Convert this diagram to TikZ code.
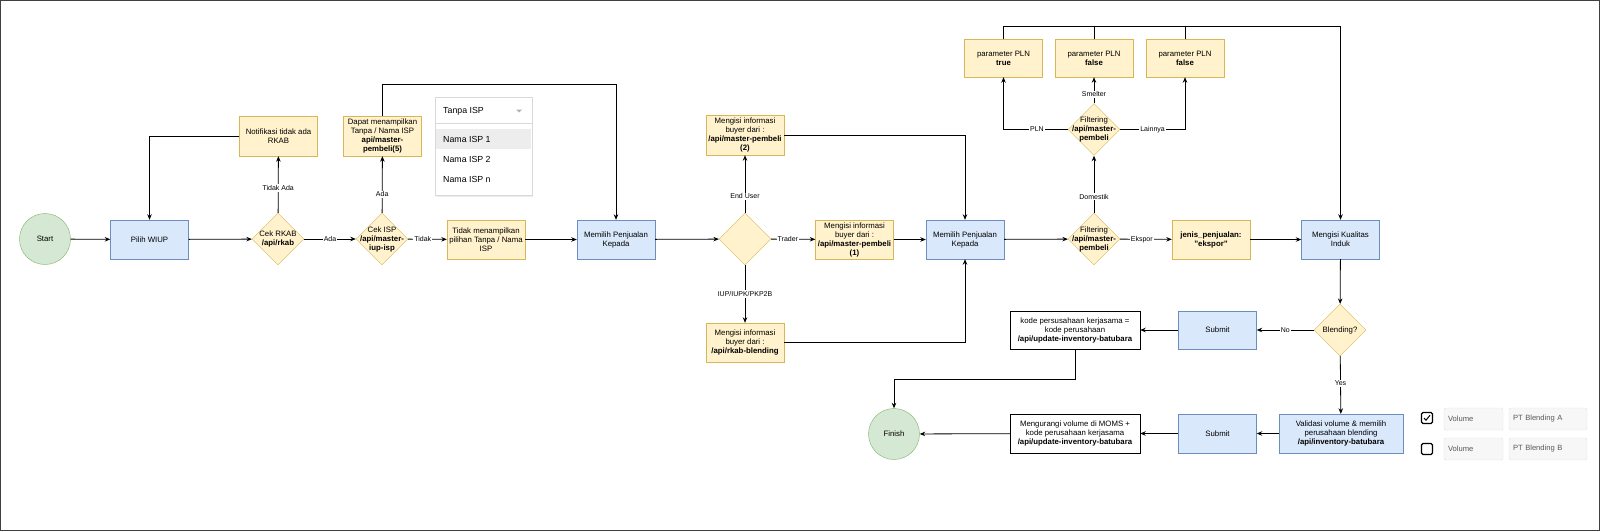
\documentclass[tikz,border=0pt]{standalone}
\usepackage{fontspec}
\setmainfont{Liberation Sans}
\usetikzlibrary{arrows.meta,positioning,calc,shapes.geometric,shadows}

\definecolor{bluefill}{HTML}{DAE8FC}
\definecolor{blueline}{HTML}{6C8EBF}
\definecolor{yellowfill}{HTML}{FFF2CC}
\definecolor{yellowline}{HTML}{D6B656}
\definecolor{greenfill}{HTML}{D5E8D4}
\definecolor{greenline}{HTML}{82B366}

\begin{document}
\begin{tikzpicture}[x=1pt, y=-1pt, >={Stealth[length=5.5pt,width=4.5pt]},
  every node/.style={font=\fontsize{7.8}{9}\selectfont, align=center},
  box/.style={rectangle, draw, minimum width=78pt, minimum height=39pt, inner sep=1pt},
  bluebox/.style={box, fill=bluefill, draw=blueline},
  yellowbox/.style={box, fill=yellowfill, draw=yellowline},
  plainbox/.style={box, draw=black, fill=white, minimum width=130pt},
  terminal/.style={circle, fill=greenfill, draw=greenline, minimum size=51pt, inner sep=0pt},
  decision/.style={diamond, fill=yellowfill, draw=yellowline, minimum width=52pt, minimum height=52pt, inner sep=0pt},
  dtext/.style={inner sep=0pt},
  elabel/.style={fill=white, font=\fontsize{7}{8}\selectfont, inner sep=1pt},
  flow/.style={->, line width=0.8pt},
  ddtext/.style={anchor=west, inner sep=0pt, font=\fontsize{8.8}{10}\selectfont},
  field/.style={rectangle, rounded corners=2pt, fill=black!3, draw=black!12, minimum height=22pt,
    inner sep=4pt, align=left, text=black!65, font=\fontsize{7.6}{9}\selectfont},
  checkbox/.style={rectangle, rounded corners=1.5pt, draw, line width=1.2pt, minimum size=11pt, inner sep=0pt}]

  \useasboundingbox (0,0) rectangle (1600,531);
  \draw[black!75, line width=1.4pt] (0.7,0.7) rectangle (1599.3,530.3);

  \node[terminal] (start) at (45,239) {Start};
  \node[bluebox] (wiup) at (149.5,239.5) {Pilih WIUP};
  \node[decision] (rkab) at (278,239) {};
  \node[dtext] (rkabt) at (rkab) {Cek RKAB\\\textbf{/api/rkab}};
  \node[yellowbox, minimum height=40pt] (notif) at (278.5,136) {Notifikasi tidak ada\\RKAB};
  \node[decision] (isp) at (382,239) {};
  \node[dtext] (ispt) at (isp) {Cek ISP\\\textbf{/api/master-}\\\textbf{iup-isp}};
  \node[yellowbox, minimum height=40pt] (dapat) at (382.5,136) {Dapat menampilkan\\Tanpa / Nama ISP\\\textbf{api/master-}\\\textbf{pembeli(5)}};
  \node[yellowbox] (tidakisp) at (486,239.5) {Tidak menampilkan\\pilihan Tanpa / Nama\\ISP};
  \node[bluebox] (memilih1) at (616,239.5) {Memilih Penjualan\\Kepada};

  \node[decision] (buyer) at (745,239) {};
  \node[yellowbox, minimum height=40pt] (beli2) at (745,135) {Mengisi informasi\\buyer dari :\\\textbf{/api/master-pembeli}\\\textbf{(2)}};
  \node[yellowbox] (beli1) at (854.5,239.5) {Mengisi informasi\\buyer dari :\\\textbf{/api/master-pembeli}\\\textbf{(1)}};
  \node[yellowbox] (blend) at (745,342.5) {Mengisi informasi\\buyer dari :\\\textbf{/api/rkab-blending}};
  \node[bluebox] (memilih2) at (965,239.5) {Memilih Penjualan\\Kepada};

  \node[decision] (filter1) at (1094,239) {};
  \node[dtext] (filter1t) at (filter1) {Filtering\\\textbf{/api/master-}\\\textbf{pembeli}};
  \node[decision] (filter2) at (1094,129.5) {};
  \node[dtext] (filter2t) at (filter2) {Filtering\\\textbf{/api/master-}\\\textbf{pembeli}};
  \node[yellowbox, minimum height=38pt] (pln1) at (1003.5,58) {parameter PLN\\\textbf{true}};
  \node[yellowbox, minimum height=38pt] (pln2) at (1094,58) {parameter PLN\\\textbf{false}};
  \node[yellowbox, minimum height=38pt] (pln3) at (1185,58) {parameter PLN\\\textbf{false}};
  \node[yellowbox] (jenis) at (1211,239.5) {\textbf{jenis\_penjualan:}\\\textbf{"ekspor"}};
  \node[bluebox] (kualitas) at (1340.5,239.5) {Mengisi Kualitas\\Induk};

  \node[decision] (blendq) at (1340,330) {Blending?};
  \node[bluebox, minimum height=38pt] (submit1) at (1217.5,330) {Submit};
  \node[plainbox, minimum height=38pt] (kode) at (1075,330) {kode persusahaan kerjasama =\\kode perusahaan\\\textbf{/api/update-inventory-batubara}};
  \node[bluebox, minimum width=124pt] (validasi) at (1341,433.5) {Validasi volume \& memilih\\perusahaan blending\\\textbf{/api/inventory-batubara}};
  \node[bluebox] (submit2) at (1217.5,433.5) {Submit};
  \node[plainbox] (kurang) at (1075,433.5) {Mengurangi volume di MOMS +\\kode perusahaan kerjasama\\\textbf{/api/update-inventory-batubara}};
  \node[terminal] (finish) at (894,434) {Finish};

  \node[rectangle, minimum width=97pt, minimum height=98pt, draw=black!15, fill=white,
    drop shadow={opacity=0.15, shadow xshift=1pt, shadow yshift=-1.5pt}] (isplist) at (483.5,146) {};
  \fill[black!7] (435.6,129) rectangle (531.4,149);
  \draw[black!15] (435.5,123) -- (531.5,123);
  \fill[black!30] (516,109.5) -- (522,109.5) -- (519,112.5) -- cycle;
  \node[ddtext] (ispsel) at (443,111) {Tanpa ISP};
  \node[ddtext] (isp1) at (443,139.5) {Nama ISP 1};
  \node[ddtext] (isp2) at (443,159) {Nama ISP 2};
  \node[ddtext] (ispn) at (443,179) {Nama ISP n};

  \node[checkbox] (chk1) at (1427,418) {};
  \draw[line width=1pt] ($(chk1.center)+(-3,0)$) -- ++(2,2.2) -- ++(4,-5);
  \node[checkbox] (chk2) at (1427,449) {};
  \node[field, text width=51pt] (vol1) at (1473.5,419) {Volume};
  \node[field, text width=70pt] (pta) at (1548,419) {PT Blending A};
  \node[field, text width=51pt] (vol2) at (1473.5,449) {Volume};
  \node[field, text width=70pt] (ptb) at (1548,449) {PT Blending B};

  \draw[flow] (start) -- (wiup);
  \draw[flow] (wiup) -- (rkab);
  \draw[flow] (rkab) -- node[elabel] {Ada} (isp);
  \draw[flow] (rkab) -- node[elabel, pos=0.44] {Tidak Ada} (notif);
  \draw[flow] (notif.west) -| (wiup.north);
  \draw[flow] (isp) -- node[elabel, pos=0.38] {Tidak} (tidakisp);
  \draw[flow] (isp) -- node[elabel, pos=0.33] {Ada} (dapat);
  \draw[flow] (dapat.north) -- ++(0,-31) -| (memilih1.north);
  \draw[flow] (tidakisp) -- (memilih1);
  \draw[flow] (memilih1) -- (buyer);
  \draw[flow] (buyer) -- node[elabel, pos=0.38] {Trader} (beli1);
  \draw[flow] (buyer) -- node[elabel, pos=0.29] {End User} (beli2);
  \draw[flow] (buyer) -- node[elabel, pos=0.5] {IUP/IUPK/PKP2B} (blend);
  \draw[flow] (beli2.east) -| (memilih2.north);
  \draw[flow] (beli1) -- (memilih2);
  \draw[flow] (blend.east) -| (memilih2.south);
  \draw[flow] (memilih2) -- (filter1);
  \draw[flow] (filter1) -- node[elabel, pos=0.42] {Ekspor} (jenis);
  \draw[flow] (filter1) -- node[elabel, pos=0.28] {Domestik} (filter2);
  \draw[flow] (filter2.west) -| node[elabel, pos=0.24] {PLN} (pln1.south);
  \draw[flow] (filter2) -- node[elabel, pos=0.35] {Smelter} (pln2);
  \draw[flow] (filter2.east) -| node[elabel, pos=0.25] {Lainnya} (pln3.south);
  \coordinate (ktop) at (kualitas.north |- 0,26);
  \draw[line width=0.8pt] (pln2.north) |- (ktop);
  \draw[line width=0.8pt] (pln3.north) |- (ktop);
  \draw[flow] (pln1.north) |- (ktop) -- (kualitas.north);
  \draw[flow] (jenis) -- (kualitas);
  \draw[flow] (kualitas) -- (blendq);
  \draw[flow] (blendq) -- node[elabel] {No} (submit1);
  \draw[flow] (submit1) -- (kode);
  \draw[flow] (kode.south) -- ++(0,30) -| (finish.north);
  \draw[flow] (blendq) -- node[elabel, pos=0.47] {Yes} (validasi);
  \draw[flow] (validasi) -- (submit2);
  \draw[flow] (submit2) -- (kurang);
  \draw[flow] (kurang) -- (finish);
\end{tikzpicture}
\end{document}
